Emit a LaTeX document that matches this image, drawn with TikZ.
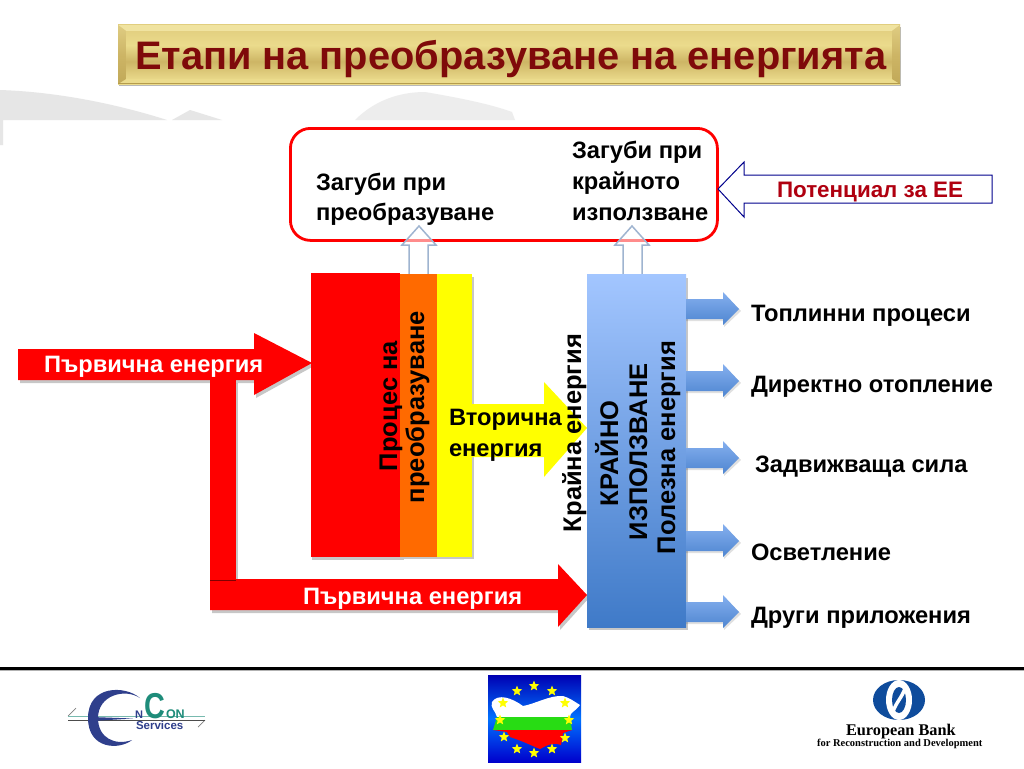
\documentclass[tikz,border=0pt]{standalone}
\usepackage{fontspec}
\setmainfont{Liberation Sans}
\newfontfamily\serifb{Liberation Serif}
\usetikzlibrary{calc,shapes.geometric}
\definecolor{goldA}{HTML}{F0E3A0}
\definecolor{goldB}{HTML}{EBDB8C}
\definecolor{goldC}{HTML}{E0CC7C}
\definecolor{goldD}{HTML}{CDB565}
\definecolor{goldE}{HTML}{B59C4C}
\definecolor{titlered}{HTML}{7F0A0A}
\definecolor{darkred}{HTML}{B00010}
\definecolor{orangeb}{HTML}{FF6A00}
\definecolor{yel}{RGB}{255,255,0}
\definecolor{grn}{RGB}{40,220,20}
\definecolor{blueT}{HTML}{A3C6FF}
\definecolor{blueB}{HTML}{3F7AC8}
\definecolor{outl}{HTML}{9FB4D0}
\definecolor{swoosh}{HTML}{E6E6E6}
\definecolor{ebrd}{HTML}{0F4C9C}
\definecolor{econ}{HTML}{2F3F8C}
\definecolor{econg}{HTML}{1E8C7A}
\pgfdeclareverticalshading{goldbar}{100bp}{color(0bp)=(goldE); color(8bp)=(goldB); color(28bp)=(goldB); color(44bp)=(goldD); color(58bp)=(goldB); color(75bp)=(goldC); color(90bp)=(goldB); color(100bp)=(goldD)}
\pgfdeclareverticalshading{goldbevel}{100bp}{color(0bp)=(goldE); color(50bp)=(goldD); color(100bp)=(goldA)}
\tikzset{
  x=1pt,y=-1pt,
  lbl/.style={inner sep=0pt,outer sep=0pt,anchor=base west,font=\fontsize{23.7}{26}\selectfont\bfseries},
  wlbl/.style={lbl,text=white},
  vlbl/.style={lbl,rotate=90,font=\fontsize{25.5}{28}\selectfont\bfseries},
  redshape/.style={fill=red,draw=none},
  shade1/.style={fill=black,opacity=.22,draw=none},
  uparrow/.style={draw=outl,line width=1.5pt,fill=white,fill opacity=.55},
  flagstar/.style={star,star points=5,star point ratio=2.3,fill=yel,inner sep=0pt,minimum size=11pt},
}
\newcommand{\sidearr}[1]{%
  \fill[black,opacity=.12] (686,#1-8) -- (724,#1-8) -- (724,#1-15) -- (741,#1+2) -- (724,#1+18) -- (724,#1+12) -- (686,#1+12) -- cycle;
  \path[top color=blueT!70!blueB,bottom color=blueB!85!blueT] (686,#1-10) -- (723,#1-10) -- (723,#1-17) -- (739,#1) -- (723,#1+16) -- (723,#1+10) -- (686,#1+10) -- cycle;}
\begin{document}
\begin{tikzpicture}
\useasboundingbox (0,0) rectangle (1024,768);
\fill[white] (0,0) rectangle (1024,768);
% background swooshes
\fill[swoosh] (0,90) .. controls (60,92) and (120,105) .. (167,120) -- (3,120) -- (3,145) -- (0,145) -- cycle;
\fill[swoosh] (172,120) -- (190,110) -- (222,120) -- cycle;
\fill[swoosh!70!white] (355,120) .. controls (375,100) and (400,92) .. (425,92) .. controls (460,98) and (490,104) .. (512,112) -- (515,120) -- cycle;
% title bar
\fill[black,opacity=.28] (119,27) rectangle (901,86);
\path[shading=goldbar] (118,25) rectangle (900,84);
\fill[goldA] (118,25) -- (900,25) -- (892,31) -- (126,31) -- cycle;
\fill[goldB] (118,84) -- (900,84) -- (892,79) -- (126,79) -- cycle;
\path[shading=goldbevel] (118,25) -- (126,31) -- (126,79) -- (118,84) -- cycle;
\path[shading=goldbevel] (900,25) -- (892,31) -- (892,79) -- (900,84) -- cycle;
\fill[goldE] (118,83) rectangle (900,84);
\node[lbl,text=titlered,font=\fontsize{39.8}{44}\selectfont\bfseries] (title) at (135,69) {Етапи на преобразуване на енергията};
% loss box
\node[draw=red,line width=2.8pt,rounded corners=20pt,minimum width=427pt,minimum height=112pt,inner sep=0pt,outer sep=0pt,anchor=north west] (loss) at (290.4,128.4) {};
\node[lbl] (l1a) at (316,190) {Загуби при};
\node[lbl] (l1b) at (316,220) {преобразуване};
\node[lbl] (l2a) at (572,158) {Загуби при};
\node[lbl] (l2b) at (572,189) {крайното};
\node[lbl] (l2c) at (572,220) {използване};
% potential arrow
\draw[draw=blue!55!black,line width=1pt,fill=white] (718,189) -- (744,162) -- (744,175) -- (992,175) -- (992,203) -- (744,203) -- (744,217) -- cycle;
\node[lbl,text=darkred,font=\fontsize{22.4}{25}\selectfont\bfseries] (pot) at (777,197) {Потенциал за ЕЕ};
% up arrows
\draw[uparrow] (419,226) -- (436,245) -- (428,245) -- (428,275) -- (409,275) -- (409,245) -- (402,245) -- cycle;
\draw[uparrow] (632,226) -- (649,245) -- (642,245) -- (642,275) -- (623,275) -- (623,245) -- (615,245) -- cycle;
% primary energy arrows
\fill[shade1] (212,383) rectangle (238,582);
\fill[shade1] (20,352) -- (256,352) -- (256,336) -- (314,366) -- (256,398) -- (256,383) -- (20,383) -- cycle;
\fill[shade1] (212,582) -- (560,582) -- (560,567) -- (589,598) -- (560,630) -- (560,613) -- (212,613) -- cycle;
\fill[redshape] (18,349) -- (254,349) -- (254,333) -- (312,363) -- (254,395) -- (254,380) -- (18,380) -- cycle;
\fill[redshape] (210,378) rectangle (236,582);
\fill[redshape] (210,579) -- (558,579) -- (558,564) -- (587,595) -- (558,627) -- (558,610) -- (210,610) -- cycle;
\draw[black!50!red,line width=.6pt] (210,580) -- (236,580);
\node[wlbl] (pe1) at (44,372) {Първична енергия};
\node[wlbl] (pe2) at (303,604) {Първична енергия};
% conversion block
\fill[shade1] (312,277) rectangle (404,560);
\fill[shade1] (404,277) rectangle (474,559);
\fill[red] (311,273) rectangle (400,557);
\fill[orangeb] (400,274) rectangle (437,557);
\fill[yel] (437,274) rectangle (472,557);
\node[vlbl] (proc1) at (397,471) {Процес на};
\node[vlbl] (proc2) at (424,503) {преобразуване};
% secondary arrow
\fill[yel] (472,404) -- (544,404) -- (544,382) -- (587,428) -- (544,477) -- (544,457) -- (472,457) -- cycle;
\node[lbl] (sec1) at (449,425) {Вторична};
\node[lbl] (sec2) at (449,456) {енергия};
% end-use block
\fill[shade1] (589,278) rectangle (688,630);
\path[top color=blueT,bottom color=blueB] (587,274) rectangle (686,627);
\node[vlbl] (fin) at (581,532) {Крайна енергия};
\node[vlbl] (ku1) at (618,506) {КРАЙНО};
\node[vlbl] (ku2) at (647,540) {ИЗПОЛЗВАНЕ};
\node[vlbl] (pol) at (675,554) {Полезна енергия};
% outputs
\sidearr{309}\sidearr{381}\sidearr{458}\sidearr{541}\sidearr{612}
\node[lbl] (o1) at (751,321) {Топлинни процеси};
\node[lbl] (o2) at (751,392) {Директно отопление};
\node[lbl] (o3) at (755,472) {Задвижваща сила};
\node[lbl] (o4) at (751,560) {Осветление};
\node[lbl] (o5) at (751,623) {Други приложения};
% rule
\fill[black] (0,667) rectangle (1024,670);
\fill[black,opacity=.3] (0,670) rectangle (1024,671);
% EnCon logo
\draw[black!50,line width=.7pt] (68,716) -- (76,708);
\draw[black!50,line width=.7pt] (198,727) -- (205,720);
\draw[econg!60!white,line width=1pt] (68,716) -- (205,716);
\draw[black!70,line width=.8pt] (68,720) -- (205,720);
\fill[econ] (140,698) .. controls (125,685) and (88,685) .. (88,718) .. controls (88,750) and (120,750) .. (132,740) .. controls (115,746) and (98,738) .. (98,718) .. controls (98,695) and (125,688) .. (140,698) -- cycle;
\fill[econ] (92,717) -- (133,718.5) -- (92,721) -- cycle;
\node[lbl,text=econ,font=\fontsize{11}{11}\selectfont\bfseries] (en) at (135,718) {N};
\node[lbl,text=econg,xscale=.8,transform shape,font=\fontsize{36}{36}\selectfont\bfseries] (cc) at (144,718) {C};
\node[lbl,text=econg,font=\fontsize{12.5}{12.5}\selectfont\bfseries] (on) at (166,718) {ON};
\node[lbl,text=econ,font=\fontsize{11.5}{12}\selectfont\bfseries] (srv) at (136,729.5) {Services};
% flag logo
\path[top color=blue!70!black,bottom color=blue!80!black,middle color=blue!55!cyan] (488,675) rectangle (581,762);
\begin{scope}
\clip (492,702) .. controls (498,693) and (512,698) .. (523,706) .. controls (535,704) and (550,695) .. (563,696) .. controls (570,698) and (575,702) .. (580,705) .. controls (575,712) and (570,712) .. (570,717) -- (572,730) -- (563,733) -- (561,745) .. controls (552,742) and (548,745) .. (540,749) .. controls (530,745) and (525,742) .. (510,737) -- (507,732) -- (493,730) -- (497,717) .. controls (495,710) and (490,708) .. (492,702) -- cycle;
\fill[white] (488,690) rectangle (582,717);
\fill[grn] (488,717) rectangle (582,730);
\fill[red] (488,730) rectangle (582,755);
\end{scope}
\foreach \sx/\sy [count=\si] in {534/686,517/691,552/691,503/703,565/703,500/720,569/720,504/737,565/738,517/749,534/753,552/749}{
  \node[flagstar] (st\si) at (\sx,\sy) {};
}
% EBRD logo
\fill[ebrd] (899,700) ellipse [x radius=26pt,y radius=20pt];
\fill[white] (899,700) ellipse [x radius=13pt,y radius=20pt];
\fill[ebrd] (899,700) ellipse [x radius=7pt,y radius=13pt];
\draw[white,line width=3.5pt] (892,714) .. controls (897,700) and (901,700) .. (906,686);
\node[lbl,font=\fontsize{16.3}{17}\serifb\bfseries\selectfont] (eb1) at (846,735) {European Bank};
\node[lbl,font=\fontsize{10.5}{11}\serifb\bfseries\selectfont] (eb2) at (817,746) {for Reconstruction and Development};
\end{tikzpicture}
\end{document}
